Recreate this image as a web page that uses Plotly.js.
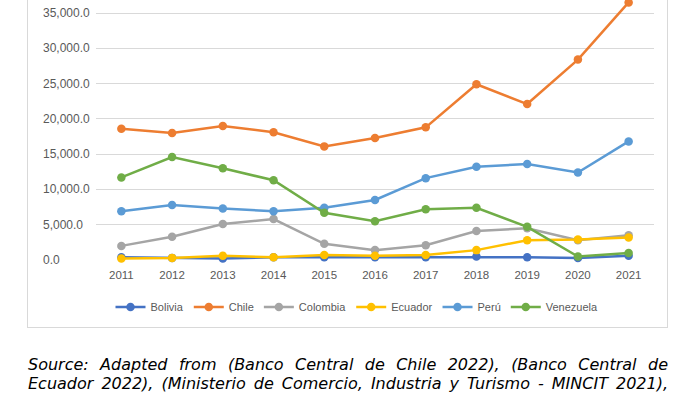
<!DOCTYPE html>
<html>
<head>
<meta charset="utf-8">
<script src="https://cdn.plot.ly/plotly-3.0.1.min.js"></script>
<style>
html,body{margin:0;padding:0;width:700px;height:394px;overflow:hidden;background:#fff;}
#frame{position:absolute;left:27px;top:-10px;width:641px;height:338px;border:1px solid #d9d9d9;box-sizing:border-box;}
#chart{position:absolute;left:0;top:0;width:700px;height:394px;}
#caption{position:absolute;left:28px;top:355px;width:640px;font-family:"DejaVu Sans",Verdana,sans-serif;font-style:italic;font-size:16px;line-height:19px;color:#000;}
#caption span{display:block;text-align:justify;text-align-last:justify;}
#caption span.wrap{text-align-last:auto;}
</style>
</head>
<body>
<div id="frame"></div>
<div id="chart"></div>
<div id="caption"><span>Source: Adapted from (Banco Central de Chile 2022), (Banco Central de</span><span>Ecuador 2022), (Ministerio de Comercio, Industria y Turismo - MINCIT 2021),</span><span class="wrap">(Banco Central de Reserva del Perú 2022), (Banco Central de Bolivia 2022)</span></div>
<script>
var years = [2011,2012,2013,2014,2015,2016,2017,2018,2019,2020,2021];
var bolivia   = [400,300,200,400,400,400,400,500,400,300,600];
var chile     = [18600,18000,19000,18100,16100,17300,18800,24900,22100,28400,36500];
var colombia  = [2000,3300,5100,5800,2300,1400,2100,4100,4500,2800,3500];
var ecuador   = [200,300,600,400,700,600,700,1400,2800,2900,3200];
var peru      = [6900,7800,7300,6900,7400,8500,11600,13200,13600,12400,16800];
var venezuela = [11700,14600,13000,11300,6700,5500,7200,7400,4700,500,1000];

var seriesNames = ["Bolivia","Chile","Colombia","Ecuador","Perú","Venezuela"];
var seriesData = [bolivia, chile, colombia, ecuador, peru, venezuela];
var seriesColors = ["#4472C4","#ED7D31","#A5A5A5","#FFC000","#5B9BD5","#70AD47"];

var yTickVals = [0,5000,10000,15000,20000,25000,30000,35000];
var yTickText = ["0.0","5,000.0","10,000.0","15,000.0","20,000.0","25,000.0","30,000.0","35,000.0"];
var xTickText = ["2011","2012","2013","2014","2015","2016","2017","2018","2019","2020","2021"];

var traces = seriesNames.map(function(n,i){
  return {
    x: years, y: seriesData[i], name: n, type: 'scatter', mode: 'lines+markers',
    line: {color: seriesColors[i], width: 2.5},
    marker: {color: seriesColors[i], size: 8.5},
    cliponaxis: false
  };
});

var annotations = yTickVals.map(function(v,i){
  return {xref:'paper', yref:'y', x:-0.097, y:v, text:yTickText[i], showarrow:false, borderpad:0,
          xanchor:'left', yanchor:'middle', font:{family:'Liberation Sans', size:12, color:'#595959'}};
});

var layout = {
  width: 700, height: 394,
  margin: {l: 96, r: 46, t: 0, b: 134},
  paper_bgcolor: 'rgba(0,0,0,0)', plot_bgcolor: 'rgba(0,0,0,0)',
  showlegend: true,
  xaxis: {range:[2010.5,2021.5], tickvals: years, ticktext: xTickText, showgrid:false, zeroline:false,
          showline:false, ticks:'', ticklabelstandoff:6, tickfont:{family:'Liberation Sans', size:11.5, color:'#595959'}, fixedrange:true},
  yaxis: {range:[0,36842], tickvals: yTickVals, showticklabels:false, showgrid:true, gridcolor:'#d9d9d9', gridwidth:1,
          zeroline:false, showline:false, ticks:'', fixedrange:true},
  legend: {orientation:'h', xref:'container', yref:'container', x:0.51, xanchor:'center', y:1-307/394, yanchor:'middle',
           font:{family:'Liberation Sans', size:11, color:'#595959'}, itemwidth:30, bgcolor:'rgba(0,0,0,0)'},
  annotations: annotations
};
Plotly.newPlot('chart', traces, layout, {displayModeBar:false, staticPlot:true});
</script>
</body>
</html>
